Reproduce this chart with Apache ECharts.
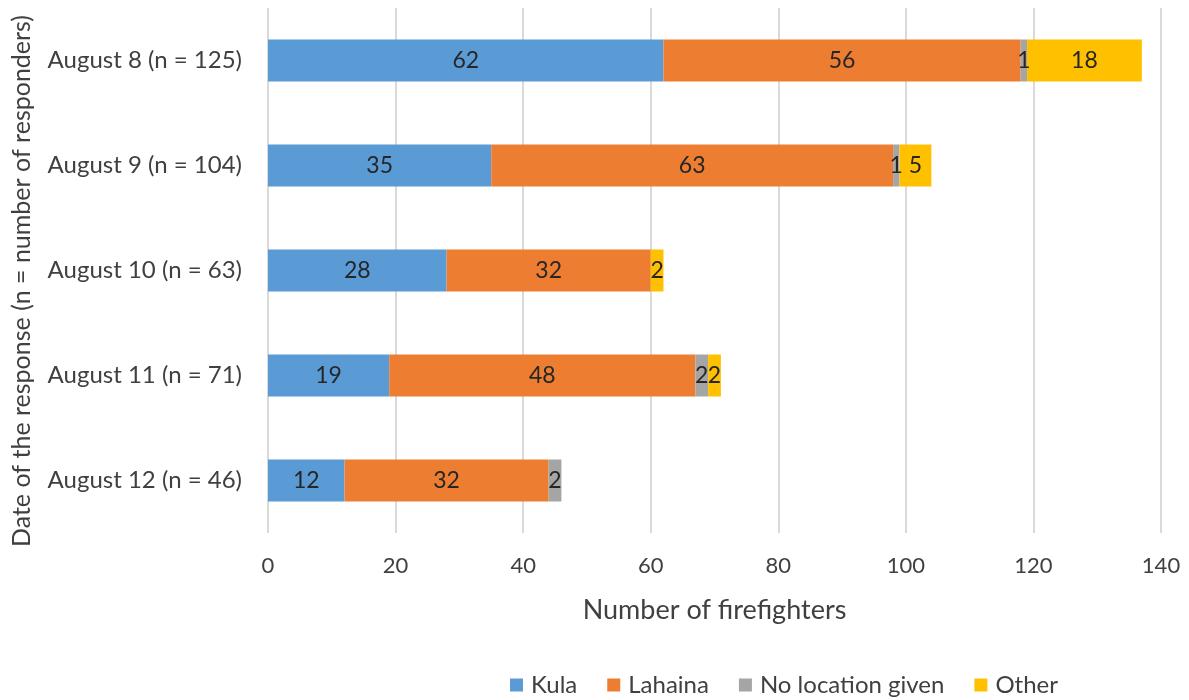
<!DOCTYPE html>
<html><head><meta charset="utf-8">
<script src="https://cdn.jsdelivr.net/npm/echarts@6/dist/echarts.min.js"></script>
<style>html,body{margin:0;padding:0;background:#fff}#c{width:1189px;height:700px}</style>
</head><body><div id="c"></div>
<script>
const categories = ['August 8 (n = 125)','August 9 (n = 104)','August 10 (n = 63)','August 11 (n = 71)','August 12 (n = 46)'];
const kula = [62, 35, 28, 19, 12];
const lahaina = [56, 63, 32, 48, 32];
const noLocation = [1, 1, null, 2, 2];
const other = [18, 5, 2, 2, null];
const seriesNames = ['Kula','Lahaina','No location given','Other'];
const colors = ['#5B9BD5','#ED7D31','#A5A5A5','#FFC000'];
const xTicks = {min:0, max:140, interval:20};
const xTitle = 'Number of firefighters';
const yTitle = 'Date of the response (n = number of responders)';

const font = 'Lato, "Open Sans", sans-serif';
const chart = echarts.init(document.getElementById('c'));
const mk = (name, data, i) => ({
  name, type:'bar', stack:'total', data, barWidth:'40%',
  itemStyle:{color:colors[i]},
  label:{show:true, position:'inside', color:'#262626', fontSize:23, fontFamily:font,
    formatter:p => p.value == null ? '' : p.value}
});
chart.setOption({
  animation:false,
  grid:{left:268, right:28, top:8, height:525, containLabel:false, outerBoundsMode:'none'},
  legend:{top:666, left:505, itemWidth:13, itemHeight:13, itemGap:30, icon:'rect',
    textStyle:{fontSize:24, lineHeight:28, color:'#404040', fontFamily:font, padding:[0,0,0,3]},
    data:seriesNames},
  graphic:[{type:'text', x:22, y:281, rotation:Math.PI/2,
    style:{text:yTitle, fontSize:25, fill:'#404040', fontFamily:font, align:'center', verticalAlign:'middle'}}],
  xAxis:{type:'value', min:xTicks.min, max:xTicks.max, interval:xTicks.interval,
    name:xTitle, nameLocation:'middle', nameGap:64,
    nameTextStyle:{fontSize:27, color:'#404040', fontFamily:font},
    axisLine:{show:false}, axisTick:{show:false},
    axisLabel:{fontSize:22, color:'#404040', fontFamily:font, margin:22},
    splitLine:{show:true, lineStyle:{color:'#d9d9d9', width:2}}},
  yAxis:{type:'category', data:categories, inverse:true,
    axisLine:{show:false}, axisTick:{show:false},
    axisLabel:{fontSize:24, color:'#404040', fontFamily:font, margin:26}},
  series:[mk(seriesNames[0],kula,0), mk(seriesNames[1],lahaina,1), mk(seriesNames[2],noLocation,2), mk(seriesNames[3],other,3)]
});
</script></body></html>
